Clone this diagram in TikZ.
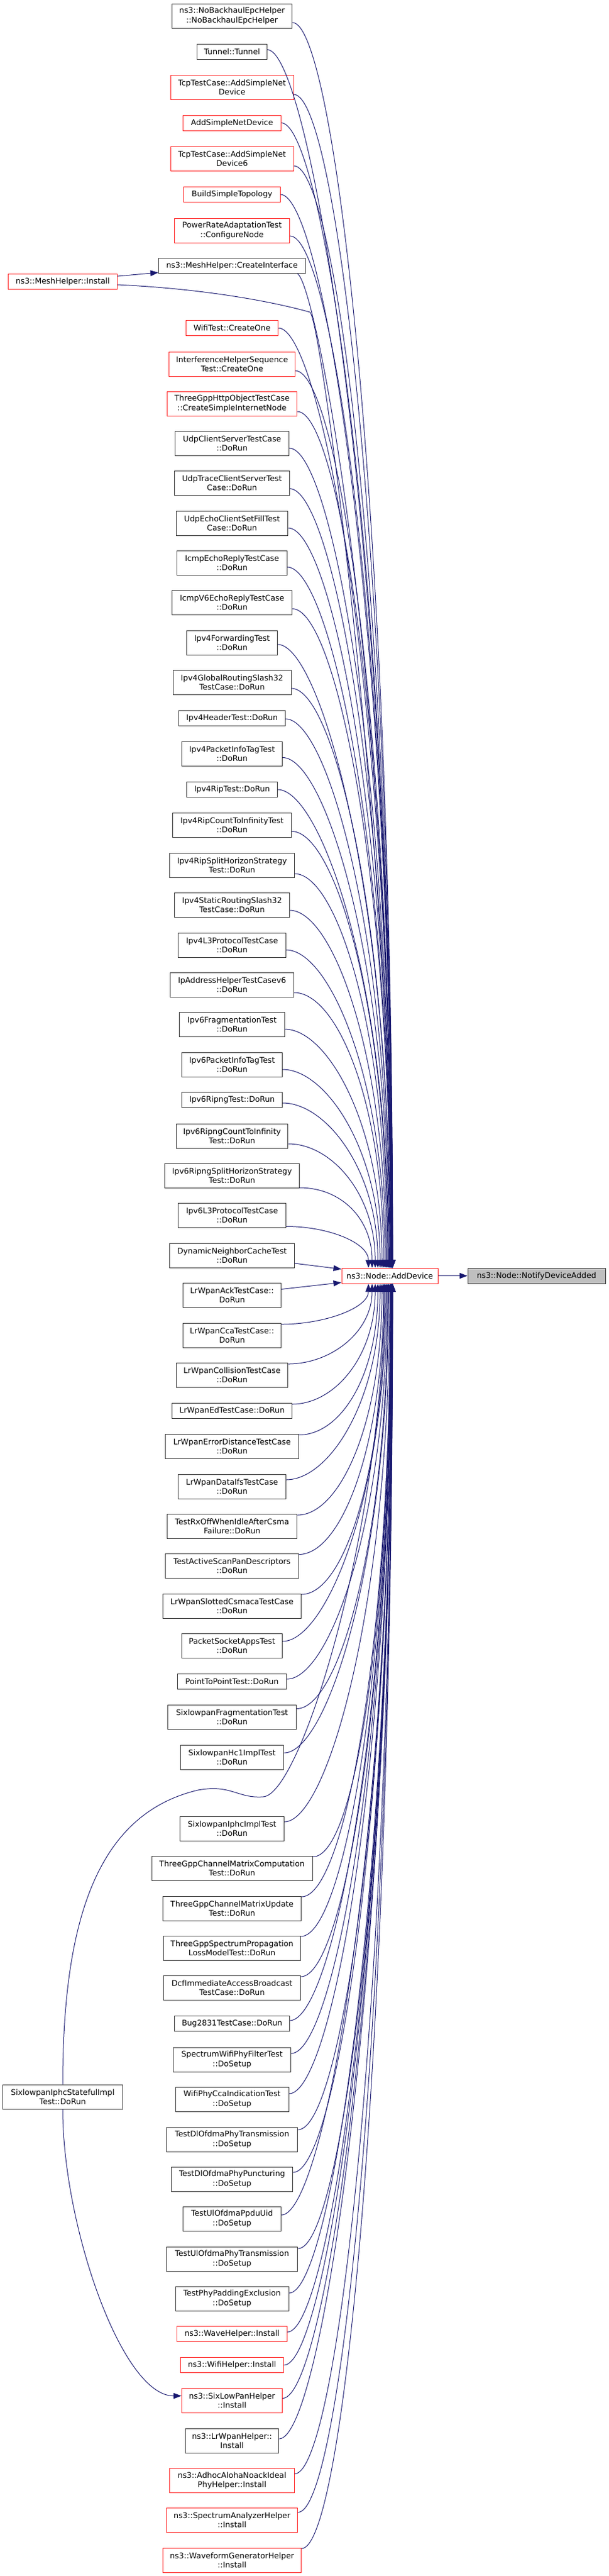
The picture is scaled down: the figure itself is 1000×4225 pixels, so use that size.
\documentclass[tikz,border=0pt]{standalone}
\usepackage{fontspec}
\setmainfont{DejaVu Sans}
\usetikzlibrary{calc,arrows.meta}
\definecolor{edgeblue}{RGB}{25,25,112}
\definecolor{nodered}{RGB}{255,30,30}
\definecolor{nodegray}{RGB}{191,191,191}
\tikzset{
  nb/.style={draw=black!80, line width=1pt, rectangle, inner sep=0pt, align=center,
             font=\fontsize{12.8}{15.3}\selectfont},
  rb/.style={nb, draw=nodered},
  one/.style={minimum height=25pt},
  two/.style={minimum height=40pt},
  edge/.style={draw=edgeblue, line width=1pt, -{Triangle[length=13pt,width=9.5pt]}},
}
% upper edge: node, cy, offset, rank k (1 = nearest)
\newcommand\uped[4]{%
  \pgfmathsetmacro\hh{0.6*(2080-#2-#3)}%
  \pgfmathsetmacro\myx{645-40*0.85^(#4-1)-640}%
  \draw[edge] ($(#1.east)+(0,#3)$) .. controls +(70,0) and +(0,-\hh) .. ($(ad.north)+(\myx,0)$);}
% lower edge: node, cy, offset, rank k (1 = nearest)
\newcommand\lowed[4]{%
  \pgfmathsetmacro\hh{0.6*(#2+#3-2105)}%
  \pgfmathsetmacro\myx{645-40*0.85^(#4-1)-640}%
  \draw[edge] ($(#1.east)+(0,#3)$) .. controls +(70,0) and +(0,\hh) .. ($(ad.south)+(\myx,0)$);}
\begin{document}
\begin{tikzpicture}[x=1pt,y=-1pt]
\useasboundingbox (0,0) rectangle (1000,4225);
\fill[white] (0,0) rectangle (1000,4225);

% right part
\node[rb,one,minimum width=158pt] (ad) at (640,2092.5) {ns3::Node::AddDevice};
\node[nb,one,fill=nodegray,minimum width=226pt] (nda) at (881,2092.5) {ns3::Node::NotifyDeviceAdded};

% left column
\node[rb,one,minimum width=179pt] (mhi) at (103,462) {ns3::MeshHelper::Install};
\node[nb,two,minimum width=197pt] (sis) at (103,3439) {SixlowpanIphcStatefulImpl\\Test::DoRun};

% middle column
\node[nb,two,minimum width=197.5pt] (nbh) at (381,26) {ns3::NoBackhaulEpcHelper\\::NoBackhaulEpcHelper};
\node[nb,one,minimum width=114.8pt] (tun) at (381,84.5) {Tunnel::Tunnel};
\node[rb,two,minimum width=202pt] (tcp1) at (381,143) {TcpTestCase::AddSimpleNet\\Device};
\node[rb,one,minimum width=160.7pt] (asnd) at (381,201.5) {AddSimpleNetDevice};
\node[rb,two,minimum width=202pt] (tcp6) at (381,260) {TcpTestCase::AddSimpleNet\\Device6};
\node[rb,one,minimum width=158.4pt] (bst) at (381,319) {BuildSimpleTopology};
\node[rb,two,minimum width=189.4pt] (prat) at (381,378) {PowerRateAdaptationTest\\::ConfigureNode};
\node[nb,one,minimum width=241pt] (mci) at (381,436) {ns3::MeshHelper::CreateInterface};
\node[rb,one,minimum width=151.5pt] (wco) at (381,538) {WifiTest::CreateOne};
\node[rb,two,minimum width=206.6pt] (ihs) at (381,597) {InterferenceHelperSequence\\Test::CreateOne};
\node[rb,two,minimum width=213.5pt] (tgh) at (381,662) {ThreeGppHttpObjectTestCase\\::CreateSimpleInternetNode};
\node[nb,two,minimum width=187pt] (ucs) at (381,727) {UdpClientServerTestCase\\::DoRun};
\node[nb,two,minimum width=188.3pt] (utc) at (381,792.5) {UdpTraceClientServerTest\\Case::DoRun};
\node[nb,two,minimum width=183.7pt] (uec) at (381,858) {UdpEchoClientSetFillTest\\Case::DoRun};
\node[nb,two,minimum width=180.2pt] (ier) at (381,923) {IcmpEchoReplyTestCase\\::DoRun};
\node[nb,two,minimum width=197.5pt] (iv6) at (381,988.5) {IcmpV6EchoReplyTestCase\\::DoRun};
\node[nb,two,minimum width=149.2pt] (ipf) at (381,1054) {Ipv4ForwardingTest\\::DoRun};
\node[nb,two,minimum width=194pt] (igr) at (381,1119) {Ipv4GlobalRoutingSlash32\\TestCase::DoRun};
\node[nb,one,minimum width=174.5pt] (iht) at (381,1178) {Ipv4HeaderTest::DoRun};
\node[nb,two,minimum width=165.3pt] (ipt) at (381,1236.5) {Ipv4PacketInfoTagTest\\::DoRun};
\node[nb,one,minimum width=149.2pt] (irt) at (381,1295) {Ipv4RipTest::DoRun};
\node[nb,two,minimum width=195.2pt] (irc) at (381,1353.5) {Ipv4RipCountToInfinityTest\\::DoRun};
\node[nb,two,minimum width=204.3pt] (irs) at (381,1419) {Ipv4RipSplitHorizonStrategy\\Test::DoRun};
\node[nb,two,minimum width=188.3pt] (isr) at (381,1484) {Ipv4StaticRoutingSlash32\\TestCase::DoRun};
\node[nb,two,minimum width=176.8pt] (il3) at (381,1550) {Ipv4L3ProtocolTestCase\\::DoRun};
\node[nb,two,minimum width=203.2pt] (iah) at (381,1615) {IpAddressHelperTestCasev6\\::DoRun};
\node[nb,two,minimum width=172.2pt] (i6f) at (381,1680) {Ipv6FragmentationTest\\::DoRun};
\node[nb,two,minimum width=165.3pt] (i6p) at (381,1746) {Ipv6PacketInfoTagTest\\::DoRun};
\node[nb,one,minimum width=165.3pt] (i6r) at (381,1804) {Ipv6RipngTest::DoRun};
\node[nb,two,minimum width=183.7pt] (i6c) at (381,1863) {Ipv6RipngCountToInfinity\\Test::DoRun};
\node[nb,two,minimum width=220.4pt] (i6s) at (381,1928) {Ipv6RipngSplitHorizonStrategy\\Test::DoRun};
\node[nb,two,minimum width=176.8pt] (i6l) at (381,1993.5) {Ipv6L3ProtocolTestCase\\::DoRun};
\node[nb,two,minimum width=204.3pt] (dnc) at (381,2059) {DynamicNeighborCacheTest\\::DoRun};
\node[nb,two,minimum width=160.7pt] (lak) at (381,2124.5) {LrWpanAckTestCase::\\DoRun};
\node[nb,two,minimum width=160.7pt] (lcc) at (381,2190) {LrWpanCcaTestCase::\\DoRun};
\node[nb,two,minimum width=183.7pt] (lco) at (381,2255) {LrWpanCollisionTestCase\\::DoRun};
\node[nb,one,minimum width=196.3pt] (led) at (381,2314) {LrWpanEdTestCase::DoRun};
\node[nb,two,minimum width=218.1pt] (ler) at (381,2372.5) {LrWpanErrorDistanceTestCase\\::DoRun};
\node[nb,two,minimum width=176.8pt] (ldi) at (381,2438) {LrWpanDataIfsTestCase\\::DoRun};
\node[nb,two,minimum width=213.5pt] (trx) at (381,2503) {TestRxOffWhenIdleAfterCsma\\Failure::DoRun};
\node[nb,two,minimum width=218.1pt] (tas) at (381,2568.5) {TestActiveScanPanDescriptors\\::DoRun};
\node[nb,two,minimum width=227.3pt] (lsc) at (381,2634) {LrWpanSlottedCsmacaTestCase\\::DoRun};
\node[nb,two,minimum width=165.3pt] (psa) at (381,2699) {PacketSocketAppsTest\\::DoRun};
\node[nb,one,minimum width=179pt] (ptp) at (381,2758) {PointToPointTest::DoRun};
\node[nb,two,minimum width=211.2pt] (sft) at (381,2816.5) {SixlowpanFragmentationTest\\::DoRun};
\node[nb,two,minimum width=169.9pt] (shc) at (381,2882) {SixlowpanHc1ImplTest\\::DoRun};
\node[nb,two,minimum width=171pt] (sip) at (381,2999) {SixlowpanIphcImplTest\\::DoRun};
\node[nb,two,minimum width=264pt] (tcm) at (381,3064.5) {ThreeGppChannelMatrixComputation\\Test::DoRun};
\node[nb,two,minimum width=227.3pt] (tcu) at (381,3130) {ThreeGppChannelMatrixUpdate\\Test::DoRun};
\node[nb,two,minimum width=225pt] (tsp) at (381,3195) {ThreeGppSpectrumPropagation\\LossModelTest::DoRun};
\node[nb,two,minimum width=225pt] (dia) at (381,3260) {DcfImmediateAccessBroadcast\\TestCase::DoRun};
\node[nb,one,minimum width=188.3pt] (bug) at (381,3319) {Bug2831TestCase::DoRun};
\node[nb,two,minimum width=192.9pt] (swf) at (381,3378) {SpectrumWifiPhyFilterTest\\::DoSetup};
\node[nb,two,minimum width=186pt] (wcc) at (381,3443) {WifiPhyCcaIndicationTest\\::DoSetup};
\node[nb,two,minimum width=215.8pt] (tdt) at (381,3509) {TestDlOfdmaPhyTransmission\\::DoSetup};
\node[nb,two,minimum width=199.8pt] (tdp) at (381,3574) {TestDlOfdmaPhyPuncturing\\::DoSetup};
\node[nb,two,minimum width=160.7pt] (tup) at (381,3639) {TestUlOfdmaPpduUid\\::DoSetup};
\node[nb,two,minimum width=215.8pt] (tut) at (381,3705) {TestUlOfdmaPhyTransmission\\::DoSetup};
\node[nb,two,minimum width=186pt] (tpp) at (381,3770) {TestPhyPaddingExclusion\\::DoSetup};
\node[rb,one,minimum width=180.2pt] (whi) at (381,3828) {ns3::WaveHelper::Install};
\node[rb,one,minimum width=169.9pt] (wfh) at (381,3879) {ns3::WifiHelper::Install};
\node[rb,two,minimum width=165.3pt] (slp) at (381,3937.5) {ns3::SixLowPanHelper\\::Install};
\node[nb,two,minimum width=153.8pt] (lwh) at (381,4003) {ns3::LrWpanHelper::\\Install};
\node[rb,two,minimum width=204.3pt] (aah) at (381,4068.5) {ns3::AdhocAlohaNoackIdeal\\PhyHelper::Install};
\node[rb,two,minimum width=215.8pt] (sah) at (381,4133.5) {ns3::SpectrumAnalyzerHelper\\::Install};
\node[rb,two,minimum width=227.3pt] (wgh) at (381,4199) {ns3::WaveformGeneratorHelper\\::Install};

% ---- edges ----
\draw[edge] (ad.east) -- (nda.west);
\draw[edge] ($(mhi.east)+(0,-9)$) -- ($(mci.west)+(0,11)$);
\draw[edge] ($(mhi.east)+(0,5)$) .. controls +(170,8) and +(-35,-10) .. (509,512)
   .. controls (528,525) and (643,1400) .. ($(ad.north)+(3.5,0)$);
\draw[edge] ($(mci.south east)+(-13.5,0)$) .. controls +(30,15) and +(0,-980) .. ($(ad.north)+(3.8,0)$);

\uped{nbh}{26}{11}{33}
\uped{tun}{84.5}{-3}{32}
\uped{tcp1}{143}{12}{31}
\uped{asnd}{201.5}{0}{30}
\uped{tcp6}{260}{12}{29}
\uped{bst}{319}{0}{28}
\uped{prat}{378}{9}{27}
\uped{wco}{538}{0}{24}
\uped{ihs}{597}{11}{23}
\uped{tgh}{662}{13}{22}
\uped{ucs}{727}{8}{21}
\uped{utc}{792.5}{9}{20}
\uped{uec}{858}{8}{19}
\uped{ier}{923}{7}{18}
\uped{iv6}{988.5}{10}{17}
\uped{ipf}{1054}{3}{16}
\uped{igr}{1119}{10}{15}
\uped{iht}{1178}{1}{14}
\uped{ipt}{1236.5}{6}{13}
\uped{irt}{1295}{0}{12}
\uped{irc}{1353.5}{10}{11}
\uped{irs}{1419}{14}{10}
\uped{isr}{1484}{9}{9}
\uped{il3}{1550}{8}{8}
\uped{iah}{1615}{13}{7}
\uped{i6f}{1680}{8}{6}
\uped{i6p}{1746}{8}{5}
\uped{i6r}{1804}{5}{4}
\uped{i6c}{1863}{13}{3}
\uped{i6s}{1928}{20}{2}
\uped{i6l}{1993.5}{18}{1}

\draw[edge] ($(dnc.east)+(0,13)$) -- ($(ad.west)+(0,-11)$);
\draw[edge] ($(lak.east)+(0,-10)$) -- ($(ad.west)+(0,11)$);

\lowed{lcc}{2190}{-18}{1}
\lowed{lco}{2255}{-18}{2}
\lowed{led}{2314}{-11}{3}
\lowed{ler}{2372.5}{-19}{4}
\lowed{ldi}{2438}{-11}{5}
\lowed{trx}{2503}{-18}{6}
\lowed{tas}{2568.5}{-19}{7}
\lowed{lsc}{2634}{-19}{8}
\lowed{psa}{2699}{-7}{9}
\lowed{ptp}{2758}{-4}{10}
\lowed{sft}{2816.5}{-14}{11}
\lowed{shc}{2882}{-7}{12}
\lowed{sip}{2999}{-11}{14}
\lowed{tcm}{3064.5}{-19}{15}
\lowed{tcu}{3130}{-19}{16}
\lowed{tsp}{3195}{-19}{17}
\lowed{dia}{3260}{-18}{18}
\lowed{bug}{3319}{-5}{19}
\lowed{swf}{3378}{-10}{20}
\lowed{wcc}{3443}{-9}{21}
\lowed{tdt}{3509}{-16}{22}
\lowed{tdp}{3574}{-11}{23}
\lowed{tup}{3639}{-6}{24}
\lowed{tut}{3705}{-17}{25}
\lowed{tpp}{3770}{-9}{26}
\lowed{whi}{3828}{-3}{27}
\lowed{wfh}{3879}{0}{28}
\lowed{slp}{3937.5}{-4}{29}
\lowed{lwh}{4003}{-3}{30}
\lowed{aah}{4068.5}{-11}{31}
\lowed{sah}{4133.5}{-13}{32}
\lowed{wgh}{4199}{-19}{33}

% SixlowpanIphcStatefulImplTest edges
\draw[edge] (sis.north) .. controls +(0,-270) and (160,2975) .. (325,2936)
   .. controls (380,2926) and (390,2950) .. (432,2947)
   .. controls (495,2944) and (630,2500) .. ($(ad.south)+(-9,0)$);
\draw[edge] (sis.south) .. controls +(0,190) and (200,3930) .. ($(slp.west)+(0,-8)$);
\end{tikzpicture}
\end{document}
